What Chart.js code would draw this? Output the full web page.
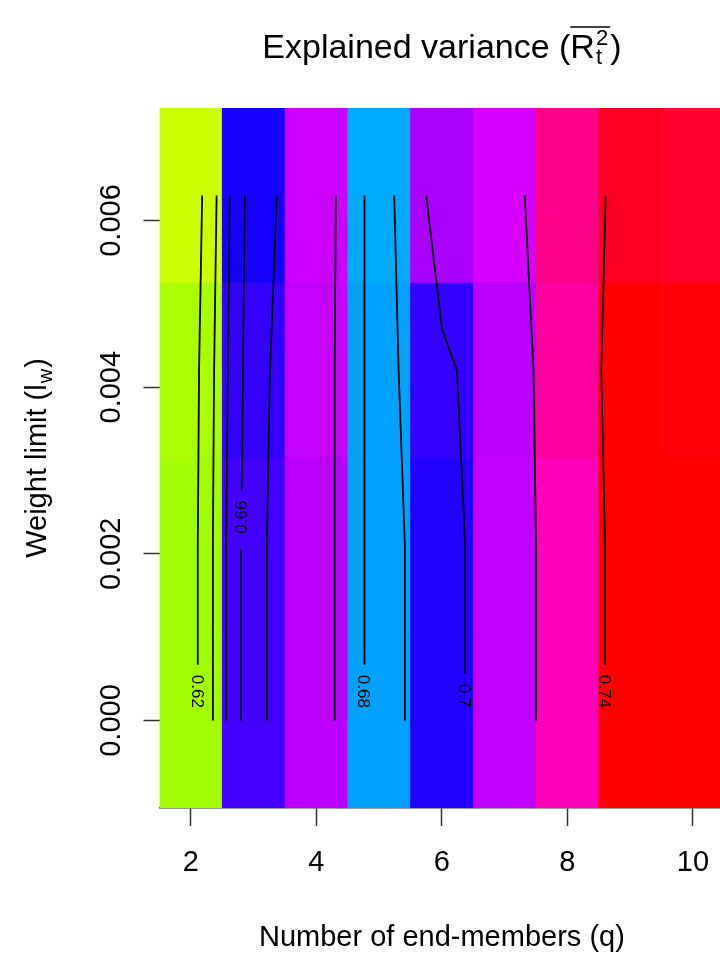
<!DOCTYPE html>
<html>
<head>
<meta charset="utf-8">
<script src="https://cdn.jsdelivr.net/npm/chart.js@4.4.1/dist/chart.umd.min.js"></script>
<style>
html, body { margin: 0; padding: 0; overflow: hidden; background: #fff; }
</style>
</head>
<body>
<canvas id="myChart" width="745" height="956"></canvas>
<script>
const endMembers = [2, 3, 4, 5, 6, 7, 8, 9, 10];
const weightLimits = [0, 0.0021, 0.0042, 0.0063];

// hue (degrees) of each cell, one list per weight limit
const hueW0 = [82, 256, 284, 202, 248, 285, 316, 360, 360];
const hueW1 = [82, 256, 284, 202, 248, 285, 316, 360, 360];
const hueW2 = [80, 252, 286, 202, 252, 284, 322, 360, 358];
const hueW3 = [72, 245, 288, 200, 280, 290, 328, 352, 349];
const rowHues = [hueW0, hueW1, hueW2, hueW3];

// contour lines: q where each line crosses the weight limits
const line1 = [2.11, 2.11, 2.13, 2.18];
const line2 = [2.35, 2.35, 2.37, 2.41];
const line3 = [2.56, 2.56, 2.59, 2.62];
const line4 = [2.80, 2.80, 2.83, 2.86];
const line5 = [3.21, 3.21, 3.26, 3.37];
const line6 = [4.29, 4.29, 4.29, 4.31];
const line7 = [4.76, 4.76, 4.77, 4.77];
const line8 = [5.41, 5.41, 5.31, 5.24];
const line9 = [6.37, 6.37, 6.24, 6.00, 5.75];
const line9w = [0, 0.0021, 0.0042, 0.0047, 0.0063];
const line10 = [7.50, 7.50, 7.46, 7.32];
const line11 = [8.60, 8.60, 8.54, 8.61];
const contourLines = [line1, line2, line3, line4, line5, line6, line7, line8, line9, line10, line11];

const labelText = ['0.62', '0.66', '0.68', '0.7', '0.74'];
const labelQ = [2.11, 2.80, 4.76, 6.37, 8.60];
const labelW = [0.00035, 0.00244, 0.00035, 0.0003, 0.00035];
const labelTurn = [1, -1, 1, 1, 1];

const xTicks = [2, 4, 6, 8, 10];
const yTicks = [0, 0.002, 0.004, 0.006];

const fam = '"Liberation Sans", Arial, sans-serif';

// cell edges half way between the weight limits, like image()
const edges = [];
edges.push(weightLimits[0] - (weightLimits[1] - weightLimits[0]) / 2);
for (let i = 1; i < weightLimits.length; i++) {
    edges.push((weightLimits[i - 1] + weightLimits[i]) / 2);
}
const n = weightLimits.length;
edges.push(weightLimits[n - 1] + (weightLimits[n - 1] - weightLimits[n - 2]) / 2);

const datasets = [];

contourLines.forEach((xs, k) => {
    const ws = xs === line9 ? line9w : weightLimits;
    datasets.push({
        type: 'line',
        data: xs.map((q, i) => ({x: q, y: ws[i]})),
        borderColor: '#000',
        borderWidth: 1.8,
        pointRadius: 0,
        tension: 0,
        fill: false,
        order: 0
    });
});

rowHues.forEach((hues, r) => {
    datasets.push({
        type: 'bar',
        data: endMembers.map(q => ({x: q, y: [edges[r], edges[r + 1]]})),
        backgroundColor: hues.map(h => 'hsl(' + h + ',100%,50%)'),
        borderWidth: 0,
        grouped: false,
        barPercentage: 1,
        categoryPercentage: 1,
        order: 1
    });
});

function labelBoxes(chart) {
    const ctx = chart.ctx;
    ctx.save();
    ctx.font = '17px ' + fam;
    const out = labelText.map((t, i) => ({
        text: t,
        x: chart.scales.x.getPixelForValue(labelQ[i]),
        y: chart.scales.y.getPixelForValue(labelW[i]),
        h: ctx.measureText(t).width / 2 + 10,
        turn: labelTurn[i]
    }));
    ctx.restore();
    return out;
}

const overlay = {
    id: 'overlay',
    beforeDatasetDraw(chart, args) {
        if (args.meta.type !== 'line') return;
        const ctx = chart.ctx;
        ctx.save();
        ctx.beginPath();
        ctx.rect(0, 0, chart.width, chart.height);
        labelBoxes(chart).forEach(b => ctx.rect(b.x - 9, b.y - b.h, 18, 2 * b.h + 5));
        ctx.clip('evenodd');
    },
    afterDatasetDraw(chart, args) {
        if (args.meta.type === 'line') chart.ctx.restore();
    },
    afterDraw(chart) {
        const ctx = chart.ctx;
        const area = chart.chartArea;
        ctx.save();
        ctx.fillStyle = '#000';
        ctx.textBaseline = 'alphabetic';

        // contour labels
        labelBoxes(chart).forEach(b => {
            ctx.save();
            ctx.font = '17px ' + fam;
            ctx.textAlign = 'center';
            ctx.translate(b.x, b.y);
            ctx.rotate(b.turn * Math.PI / 2);
            ctx.fillText(b.text, 0, 6);
            ctx.restore();
        });

        // y tick labels
        ctx.font = '29px ' + fam;
        ctx.textAlign = 'center';
        yTicks.forEach(v => {
            ctx.save();
            ctx.translate(110, chart.scales.y.getPixelForValue(v));
            ctx.rotate(-Math.PI / 2);
            ctx.fillText(v.toFixed(3), 0, 10);
            ctx.restore();
        });

        // y title: Weight limit (l_w)
        ctx.save();
        ctx.translate(36, (area.top + area.bottom) / 2);
        ctx.rotate(-Math.PI / 2);
        ctx.textAlign = 'left';
        const a = 'Weight limit (l';
        ctx.font = '29px ' + fam;
        const wa = ctx.measureText(a).width;
        const wc = ctx.measureText(')').width;
        ctx.font = '20px ' + fam;
        const ww = ctx.measureText('w').width;
        let x = -(wa + ww + wc + 2) / 2;
        ctx.font = '29px ' + fam;
        ctx.fillText(a, x, 10);
        x += wa + 1;
        ctx.font = '20px ' + fam;
        ctx.fillText('w', x, 16);
        x += ww + 1;
        ctx.font = '29px ' + fam;
        ctx.fillText(')', x, 10);
        ctx.restore();

        // main title: Explained variance (overline R^2_t)
        const cx = (area.left + area.right) / 2;
        const base = 58;
        ctx.textAlign = 'left';
        ctx.font = '34px ' + fam;
        const t1 = 'Explained variance (';
        const w1 = ctx.measureText(t1).width;
        const wR = ctx.measureText('R').width;
        const wp = ctx.measureText(')').width;
        ctx.font = '22px ' + fam;
        const ws = Math.max(ctx.measureText('2').width, ctx.measureText('t').width);
        let tx = cx - (w1 + wR + ws + 3 + wp) / 2;
        ctx.font = '34px ' + fam;
        ctx.fillText(t1, tx, base);
        tx += w1;
        const xo = tx;
        ctx.fillText('R', tx, base);
        tx += wR + 1;
        ctx.font = '22px ' + fam;
        ctx.fillText('2', tx, base - 13);
        ctx.fillText('t', tx, base + 6);
        tx += ws + 2;
        ctx.strokeStyle = '#000';
        ctx.lineWidth = 1.5;
        ctx.beginPath();
        ctx.moveTo(xo, 27);
        ctx.lineTo(tx, 27);
        ctx.stroke();
        ctx.font = '34px ' + fam;
        ctx.fillText(')', tx, base);
        ctx.restore();
    }
};

const config = {
    type: 'bar',
    data: {datasets: datasets},
    options: {
        responsive: false,
        animation: false,
        layout: {padding: {top: 108, right: 20.7, left: 0, bottom: 0}},
        plugins: {legend: {display: false}, tooltip: {enabled: false}, title: {display: false}},
        scales: {
            x: {
                type: 'linear',
                min: endMembers[0] - 0.5,
                max: endMembers[endMembers.length - 1] + 0.5,
                offset: false,
                afterBuildTicks: s => { s.ticks = xTicks.map(v => ({value: v})); },
                afterFit: s => { s.height = 148; },
                grid: {offset: false, drawOnChartArea: false, drawTicks: true, tickLength: 18,
                       tickColor: '#333', tickWidth: 1.5},
                border: {display: true, color: '#333', width: 1.5},
                ticks: {color: '#000', font: {family: fam, size: 29}, padding: 20,
                        maxRotation: 0, autoSkip: false},
                title: {display: true, text: 'Number of end-members (q)', color: '#000',
                        font: {family: fam, size: 29}, padding: {top: 0, bottom: 1}}
            },
            y: {
                type: 'linear',
                min: edges[0],
                max: edges[edges.length - 1],
                afterBuildTicks: s => { s.ticks = yTicks.map(v => ({value: v})); },
                afterFit: s => { s.width = 159.5; },
                grid: {drawOnChartArea: false, drawTicks: true, tickLength: 16,
                       tickColor: '#333', tickWidth: 1.5},
                border: {display: false},
                ticks: {display: false}
            }
        }
    },
    plugins: [overlay]
};

const myChart = new Chart(document.getElementById('myChart'), config);
</script>
</body>
</html>
